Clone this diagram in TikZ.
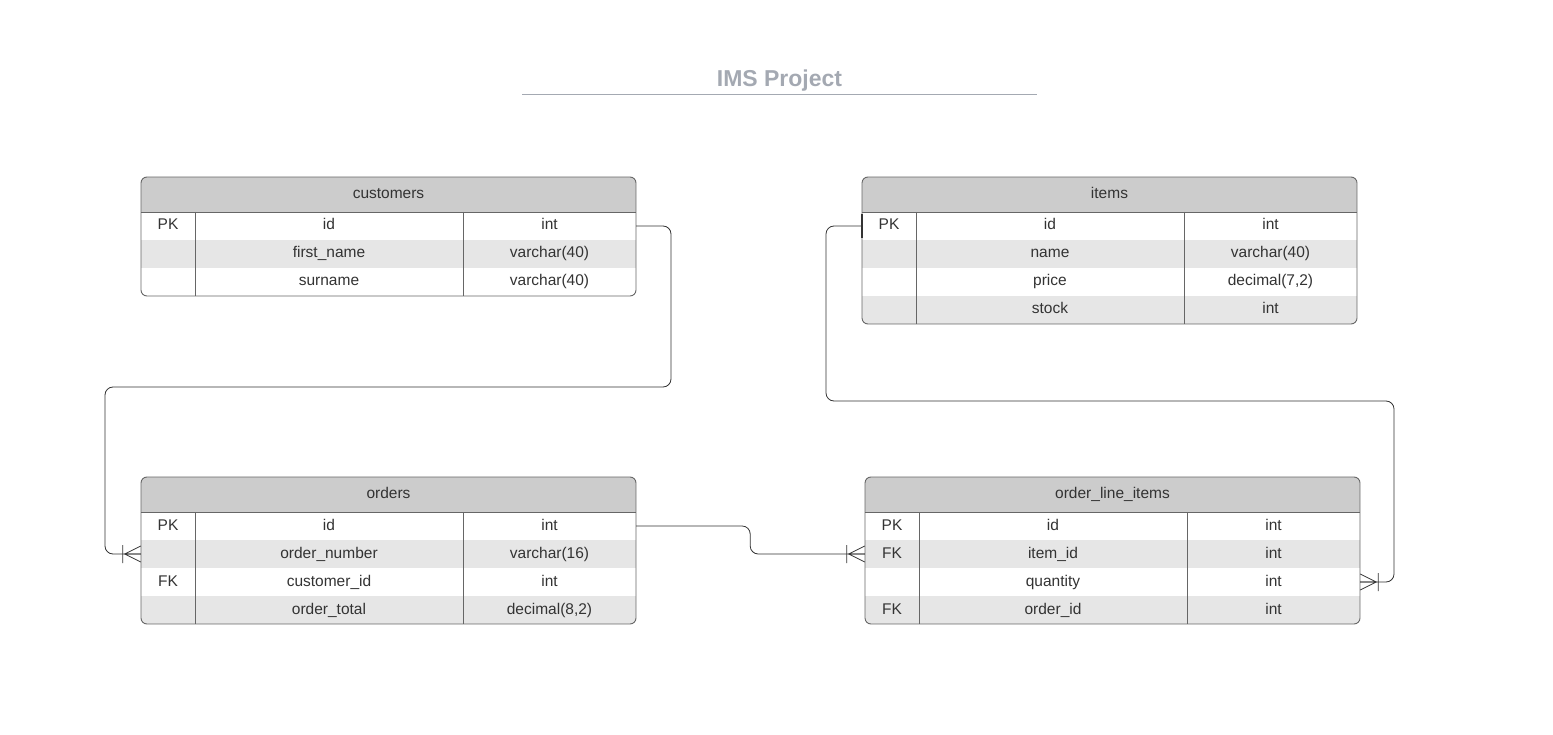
\documentclass[tikz,border=0pt]{standalone}
\usepackage{fontspec}
\setmainfont{Liberation Sans}
\definecolor{hdrgray}{HTML}{CCCCCC}
\definecolor{rowgray}{HTML}{E6E6E6}
\definecolor{framegray}{HTML}{666666}
\definecolor{titlegray}{HTML}{A4A9B2}
\definecolor{textgray}{HTML}{333333}
\tikzstyle{cell} = [inner sep=0pt, minimum height=28pt, text height=11pt, text depth=3pt, text=textgray, font=\fontsize{15.5}{18}\selectfont]
\tikzstyle{table_head} = [cell, fill=hdrgray, minimum width=495pt, minimum height=35pt]
\tikzstyle{table_frame} = [draw=framegray, line width=0.9pt, rounded corners=6pt]
\tikzstyle{conn} = [draw=textgray, line width=0.8pt, rounded corners=8pt]
\tikzset{crowfoot/.pic={\draw[textgray, line width=0.8pt] (0,-8) -- (-16,0) -- (0,8) (-16,0) -- (0,0) (-18,-9) -- (-18,9);}}
% #1 name, #2/#3 top left, #4 title, #5 number of rows, #6 rows
\newcommand{\erdtable}[6]{%
  \begin{scope}[shift={(#2,#3)}]
    \begin{scope}
      \clip[rounded corners=6pt] (0,0) rectangle (495,{35+28*#5});
      \node[table_head] (#1) at (247.5,17.5) {#4};
      \foreach \k/\f/\t [count=\i] in {#6} {
        \ifodd\i \def\rowcol{white}\else\def\rowcol{rowgray}\fi
        \node[cell, fill=\rowcol, minimum width=54pt] (#1-k\i) at (27,{21+28*\i}) {\k};
        \node[cell, fill=\rowcol, minimum width=268pt] (#1-f\i) at (188,{21+28*\i}) {\f};
        \node[cell, fill=\rowcol, minimum width=173pt] (#1-t\i) at (408.5,{21+28*\i}) {\t};
      }
    \end{scope}
    \draw[table_frame] (0,0) rectangle (495,{35+28*#5});
    \draw[table_frame, rounded corners=0pt] (0,35) -- (495,35) (54,35) -- (54,{35+28*#5}) (322,35) -- (322,{35+28*#5});
  \end{scope}}

\begin{document}
\begin{tikzpicture}[x=1pt, y=-1pt]
		\useasboundingbox (0,0) rectangle (1553,735);
		\node[anchor=base, text=titlegray, font=\fontsize{23}{26}\selectfont\bfseries] (title) at (779.5,87) {IMS Project};
		\draw[titlegray, line width=1pt] (522,95) -- (1037,95);
		
		\erdtable{customers}{141}{177}{customers}{3}{PK/id/int, /first\_name/varchar(40), /surname/varchar(40)}
		\erdtable{items}{862}{177}{items}{4}{PK/id/int, /name/varchar(40), /price/{decimal(7,2)}, /stock/int}
		\erdtable{orders}{141}{477}{orders}{4}{PK/id/int, /order\_number/varchar(16), FK/customer\_id/int, /order\_total/{decimal(8,2)}}
		\erdtable{olitems}{865}{477}{order\_line\_items}{4}{PK/id/int, FK/item\_id/int, /quantity/int, FK/order\_id/int}
		
		\draw[conn] (customers-t1.east) -| (671,387) -- (105,387) |- (orders-k2.west);
		\draw[conn] (orders-t1.east) -- ++(114,0) |- (olitems-k2.west);
		\draw[conn] (items-k1.west) -| (826,401) -- (1394,401) |- (olitems-t3.east);
		\draw[textgray, line width=1.4pt, shorten >=2pt, shorten <=2pt] (items-k1.north west) -- (items-k1.south west);
		\pic at (orders-k2.west) {crowfoot};
		\pic at (olitems-k2.west) {crowfoot};
		\pic[rotate=180] at (olitems-t3.east) {crowfoot};
\end{tikzpicture}
\end{document}
